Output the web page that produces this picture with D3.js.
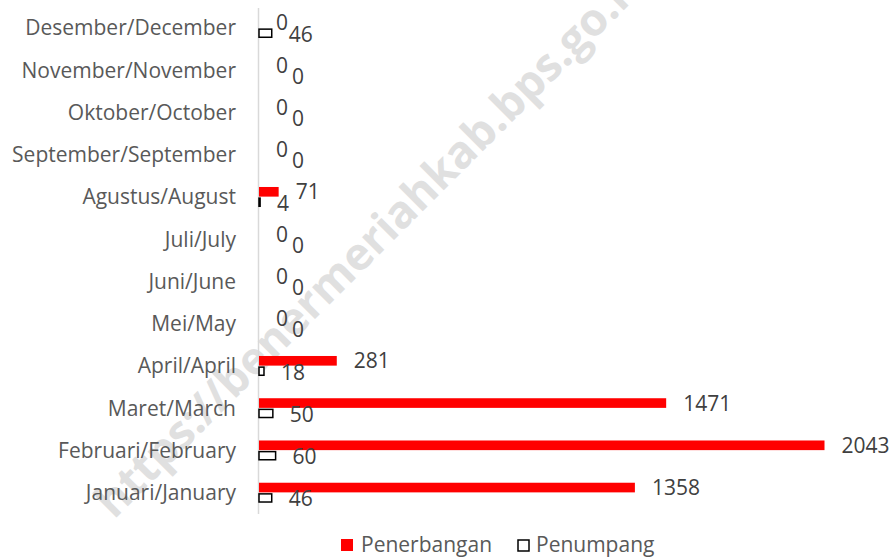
<!DOCTYPE html>
<html>
<head>
<meta charset="utf-8">
<script src="https://cdn.jsdelivr.net/npm/d3@7"></script>
<style>
  body { margin: 0; background: #fff; }
  svg { display: block; font-family: 'Open Sans', 'Noto Sans', sans-serif; }
</style>
</head>
<body>
<div id="chart"></div>
<script>
// Months, bottom to top as in the reference
let months = ['Januari/January', 'Februari/February', 'Maret/March', 'April/April',
    'Mei/May', 'Juni/June', 'Juli/July', 'Agustus/August',
    'September/September', 'Oktober/October', 'November/November', 'Desember/December'];
let penerbangan = [1358, 2043, 1471, 281, 0, 0, 0, 71, 0, 0, 0, 0];
let penumpang = [46, 60, 50, 18, 0, 0, 0, 4, 0, 0, 0, 46];
let seriesNames = ['Penerbangan', 'Penumpang'];
let watermarkText = 'https://benermeriahkab.bps.go.id';

let width = 892, height = 559;
let fontSize = 21;

let svg = d3.select('#chart')
    .append('svg')
    .attr('width', width)
    .attr('height', height);

// Watermark behind everything
svg.append('text')
    .attr('transform', 'translate(114,520) rotate(-45)')
    .attr('font-size', '45px')
    .attr('font-weight', 'bold')
    .attr('fill', '#e0e0e0')
    .text(watermarkText);

// Scales
let x = d3.scaleLinear()
    .domain([0, 2500])
    .range([259, 951]);

// Excel draws the first category at the bottom
let y = d3.scaleBand()
    .domain(months.slice().reverse())
    .range([7, 514])
    .paddingInner(0.52)
    .paddingOuter(0.26);

let ySub = d3.scaleBand()
    .domain(seriesNames)
    .range([0, y.bandwidth()]);

let rows = months.map(function(m, i) {
    return { month: m, a: penerbangan[i], b: penumpang[i] };
});

// Category labels
svg.append('g')
    .selectAll('text')
    .data(months)
    .enter()
    .append('text')
    .attr('x', 236)
    .attr('y', function(d) { return y(d) + y.bandwidth() / 2; })
    .attr('dy', '0.35em')
    .attr('text-anchor', 'end')
    .attr('font-size', fontSize + 'px')
    .attr('fill', '#595959')
    .text(function(d) { return d; });

// Axis line
svg.append('line')
    .attr('x1', x(0) - 0.5).attr('x2', x(0) - 0.5)
    .attr('y1', y.range()[0] + 1).attr('y2', y.range()[1])
    .attr('stroke', '#d9d9d9')
    .attr('stroke-width', 1.5);

let groups = svg.append('g')
    .selectAll('g')
    .data(rows)
    .enter()
    .append('g')
    .attr('transform', function(d) { return 'translate(0,' + y(d.month) + ')'; });

// Penerbangan bars
groups.filter(function(d) { return d.a > 0; })
    .append('rect')
    .attr('x', x(0))
    .attr('y', ySub('Penerbangan'))
    .attr('width', function(d) { return x(d.a) - x(0); })
    .attr('height', ySub.bandwidth() - 0.5)
    .attr('fill', '#ff0000');

// Penumpang bars (hollow)
groups.filter(function(d) { return d.b > 0; })
    .append('rect')
    .attr('x', x(0))
    .attr('y', ySub('Penumpang') + 1)
    .attr('width', function(d) { return x(d.b) - x(0); })
    .attr('height', ySub.bandwidth() - 2)
    .attr('fill', '#fff')
    .attr('stroke', '#000')
    .attr('stroke-width', 1.5);

// Data labels
let labelGap = 17;
groups.each(function(d) {
    let g = d3.select(this);
    let ax = x(d.a) + labelGap;
    let aLabel = g.append('text')
        .attr('x', ax)
        .attr('y', ySub('Penerbangan') + ySub.bandwidth() / 2)
        .attr('dy', '0.35em')
        .attr('font-size', fontSize + 'px')
        .attr('fill', '#404040')
        .text(d.a);

    // Move the second label right only if it overlaps the first one
    let aEnd = ax + aLabel.node().getComputedTextLength();
    let bx = x(d.b) + labelGap;
    if (bx < aEnd - 3 && bx + 10 > ax) bx = aEnd + 4;

    g.append('text')
        .attr('x', bx)
        .attr('y', ySub('Penumpang') + ySub.bandwidth() / 2 + 1)
        .attr('dy', '0.35em')
        .attr('font-size', fontSize + 'px')
        .attr('fill', '#404040')
        .text(d.b);
});

// Legend
let legend = svg.append('g')
    .attr('transform', 'translate(341,545)');

legend.append('rect')
    .attr('x', 0).attr('y', -6)
    .attr('width', 12).attr('height', 12)
    .attr('fill', '#ff0000');

legend.append('text')
    .attr('x', 20).attr('dy', '0.35em')
    .attr('font-size', fontSize + 'px')
    .attr('fill', '#595959')
    .text(seriesNames[0]);

legend.append('rect')
    .attr('x', 177).attr('y', -5)
    .attr('width', 11).attr('height', 11)
    .attr('fill', '#fff')
    .attr('stroke', '#000')
    .attr('stroke-width', 1.5);

legend.append('text')
    .attr('x', 195).attr('dy', '0.35em')
    .attr('font-size', fontSize + 'px')
    .attr('fill', '#595959')
    .text(seriesNames[1]);
</script>
</body>
</html>
